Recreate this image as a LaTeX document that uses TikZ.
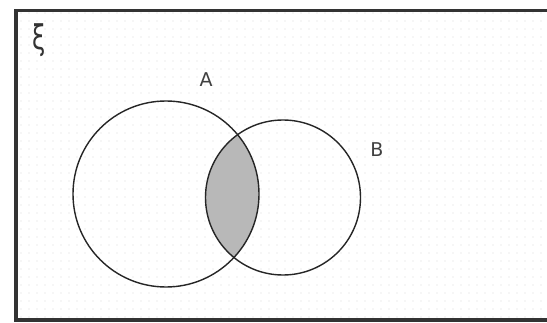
\documentclass[tikz,border=0pt]{standalone}
\usepackage{fontspec}
\setsansfont{DejaVu Sans}
\newfontfamily\xifont{DejaVu Sans}

\begin{document}
\begin{tikzpicture}[x=1pt,y=1pt,line width=0.3pt,
  setline/.style={draw=black!85,line width=1.4pt},
  lensfill/.style={fill=black!28},
  frameline/.style={draw=black!80,line width=3.5pt},
  setlabel/.style={font=\sffamily\fontsize{19}{19}\selectfont,text=black!75,inner sep=0pt}]
\useasboundingbox (0,0) rectangle (547,322);
\clip (0,0) rectangle (547,322);
\fill[white] (0,0) rectangle (547,322);
% faint dot grid
\foreach \i in {0,...,66}
  \foreach \j in {0,...,38}
    \fill[black!14] (21+8*\i,5+8*\j) circle (0.6);
% frame
\draw[frameline] (560,311.5) -- (16,311.5) -- (16,2) -- (560,2);
\coordinate (cA) at (166,128);
\coordinate (cB) at (283,124.5);
% intersection
\begin{scope}
  \clip (cA) circle (93);
  \fill[lensfill] (cB) circle (77.5);
\end{scope}
\draw[setline] (cA) circle (93);
\draw[setline] (cB) circle (77.5);
\node[font=\xifont\fontsize{34}{34}\selectfont,text=black!80,xscale=0.7,inner sep=0pt] (univ) at (39,282) {ξ};
\node[setlabel] (labA) at (206,242) {A};
\node[setlabel] (labB) at (377,172) {B};
\end{tikzpicture}
\end{document}
